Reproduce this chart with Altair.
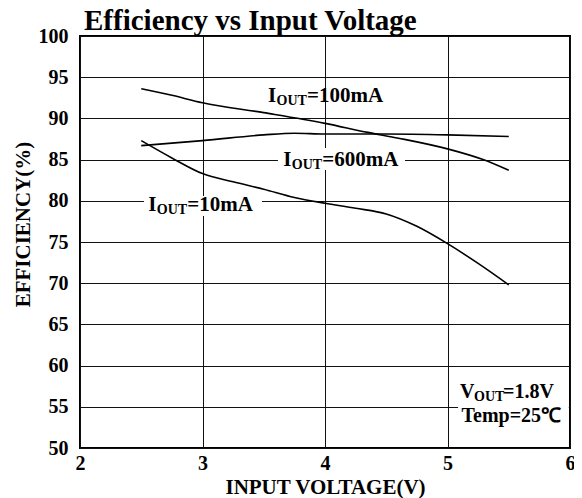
import altair as alt
import pandas as pd

# ---- data ----
v_10mA = [2.5, 2.75, 3.0, 3.25, 3.5, 3.75, 4.0, 4.25, 4.5, 4.75, 5.0, 5.25, 5.5]
eff_10mA = [87.3, 85.2, 83.3, 82.3, 81.4, 80.4, 79.7, 79.1, 78.4, 76.9, 74.8, 72.4, 69.8]
v_100mA = [2.5, 2.75, 3.0, 3.5, 4.0, 4.35, 4.6, 5.0, 5.29, 5.5]
eff_100mA = [93.6, 92.8, 91.9, 90.7, 89.4, 88.3, 87.6, 86.3, 85.0, 83.7]
v_600mA = [2.5, 2.75, 3.0, 3.5, 3.75, 4.0, 4.5, 5.0, 5.5]
eff_600mA = [86.7, 87.0, 87.3, 88.0, 88.2, 88.1, 88.1, 88.0, 87.8]

x_ticks = [2, 3, 4, 5, 6]
y_ticks = [50, 55, 60, 65, 70, 75, 80, 85, 90, 95, 100]

chart_title = ["Efficiency vs Input Voltage"]

# curve labels (I_OUT=...), anchor = left end / baseline
lab_x = [3.535, 3.66, 2.558]
lab_y = [91.99, 84.22, 78.76]
lab_rest = ["=100mA", "=600mA", "=10mA"]

# white boxes behind labels (interrupt the grid as in the reference)
box_x = [3.616, 2.522, 5.086]
box_x2 = [4.653, 3.486, 5.99]
box_y = [86.4, 80.58, 57.77]
box_y2 = [83.74, 78.16, 52.43]

# conditions note
note_x = [5.102]
note_y1 = [56.03]
note_y2 = [53.19]

FONT = "Liberation Serif"

rows = []
for name, xs, ys in [("10mA", v_10mA, eff_10mA), ("100mA", v_100mA, eff_100mA),
                     ("600mA", v_600mA, eff_600mA)]:
    for a, b in zip(xs, ys):
        rows.append({"x": a, "y": b, "series": name})
lines_df = pd.DataFrame(rows)
lab_df = pd.DataFrame({"x": lab_x, "y": lab_y, "I": ["I"] * 3, "OUT": ["OUT"] * 3, "rest": lab_rest})
box_df = pd.DataFrame({"x": box_x, "x2": box_x2, "y": box_y, "y2": box_y2})
note_df = pd.DataFrame({"x": note_x, "y": note_y1, "V": ["V"], "OUT": ["OUT"], "rest": ["=1.8V"]})
note2_df = pd.DataFrame({"x": note_x, "y": note_y2, "t": ["Temp=25℃"]})
title_df = pd.DataFrame({"t": chart_title})

x_scale = alt.Scale(domain=[2, 6], nice=False, zero=False)
y_scale = alt.Scale(domain=[50, 100], nice=False, zero=False)

x_axis = alt.Axis(values=x_ticks, grid=True, gridColor="#111", gridWidth=1, ticks=False,
                  domain=False, labelFont=FONT, labelFontSize=20, labelFontWeight="bold",
                  labelColor="black", labelPadding=5, labelFlush=False,
                  title="INPUT VOLTAGE(V)", titleFont=FONT, titleFontSize=21,
                  titleFontWeight="bold", titleColor="black", titleY=45,
                  titleBaseline="alphabetic")
y_axis = alt.Axis(values=y_ticks, grid=True, gridColor="#111", gridWidth=1, ticks=False,
                  domain=False, labelFont=FONT, labelFontSize=20, labelFontWeight="bold",
                  labelColor="black", labelPadding=12, labelFlush=False,
                  title="EFFICIENCY(%)", titleFont=FONT, titleFontSize=21,
                  titleFontWeight="bold", titleColor="black", titleAngle=270,
                  titleX=-51, titleY=188, titleAlign="center", titleBaseline="alphabetic")

X = alt.X("x:Q", scale=x_scale, axis=x_axis)
Y = alt.Y("y:Q", scale=y_scale, axis=y_axis)

boxes = alt.Chart(box_df).mark_rect(color="white").encode(x=X, x2="x2:Q", y=Y, y2="y2:Q")

lines = alt.Chart(lines_df).mark_line(interpolate="monotone", color="black", strokeWidth=1.6).encode(
    x=X, y=Y, detail="series:N")

def txt(df, field, dx=0, dy=0, size=21):
    return alt.Chart(df).mark_text(align="left", baseline="alphabetic", dx=dx, dy=dy,
                                   font=FONT, fontSize=size, fontWeight="bold",
                                   color="black").encode(x=X, y=Y, text=f"{field}:N")

title_mark = alt.Chart(title_df).mark_text(
    align="left", baseline="alphabetic", font=FONT, fontSize=29, fontWeight="bold",
    color="black").encode(x=alt.value(4), y=alt.value(-6), text="t:N")

layers = [boxes, lines,
          txt(lab_df, "I"), txt(lab_df, "OUT", dx=8.5, dy=3, size=14), txt(lab_df, "rest", dx=39),
          txt(note_df, "V", size=20), txt(note_df, "OUT", dx=14, dy=3, size=14),
          txt(note_df, "rest", dx=43, size=20), txt(note2_df, "t", dx=1.5, size=20),
          title_mark]

chart = alt.layer(*layers).properties(
    width=490, height=412,
    padding={"left": 72, "top": 28, "right": 4, "bottom": 50},
    autosize=alt.AutoSizeParams(type="none"),
    background="white",
).configure_view(stroke="black", strokeWidth=2)

chart.save("out.html", embed_options={"renderer": "svg", "actions": False})
